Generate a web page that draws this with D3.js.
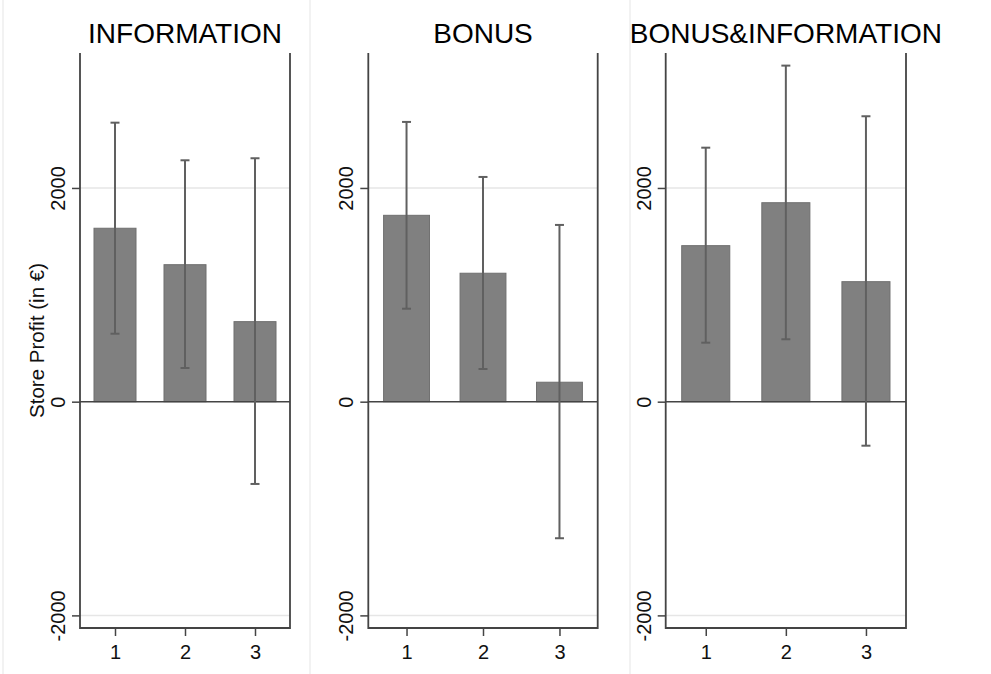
<!DOCTYPE html>
<html><head><meta charset="utf-8">
<script src="https://cdn.jsdelivr.net/npm/d3@7"></script>
<style>body{margin:0;background:#fff}svg{display:block;font-family:"Liberation Sans",Arial,sans-serif}</style>
</head><body>
<script>
const panelTitles = ["INFORMATION", "BONUS", "BONUS&INFORMATION"];
const categories = [1, 2, 3];
const means = [[1623, 1282, 749], [1744, 1202, 182], [1460, 1862, 1123]];
const ciHigh = [[2611, 2259, 2278], [2618, 2103, 1654], [2377, 3145, 2671]];
const ciLow = [[636, 315, -770], [870, 306, -1278], [552, 584, -412]];
const yTicks = [-2000, 0, 2000];
const yLabel = "Store Profit (in €)";

(function () {
const W = 991, H = 674;
const svg = d3.select("body").append("svg").attr("width", W).attr("height", H);

[3, 310, 630].forEach(x => svg.append("line").attr("x1", x).attr("x2", x).attr("y1", 0).attr("y2", H)
  .attr("stroke", "#eeeeee").attr("stroke-width", 1.5));

const panels = [{l: 80, r: 290}, {l: 368.3, r: 597.7}, {l: 665.7, r: 906}];
const plotTop = 53, plotBottom = 628;
const y = d3.scaleLinear().domain([-2118, 3263]).range([plotBottom, plotTop]);
const axisCol = "#444";
const fmt = d => String(d);

panels.forEach((p, i) => {
  const g = svg.append("g");
  const x = d3.scaleLinear().domain([0.5, 3.5]).range([p.l, p.r]);
  const unit = x(2) - x(1);
  yTicks.filter(t => t !== 0).forEach(t => g.append("line").attr("x1", p.l).attr("x2", p.r)
    .attr("y1", y(t)).attr("y2", y(t)).attr("stroke", "#e6e6e6").attr("stroke-width", 1.5));
  g.selectAll("rect.bar").data(categories).join("rect")
    .attr("x", d => x(d) - unit * 0.3).attr("width", unit * 0.6)
    .attr("y", (d, j) => y(Math.max(0, means[i][j])))
    .attr("height", (d, j) => Math.abs(y(means[i][j]) - y(0)))
    .attr("fill", "#808080").attr("stroke", "#6f6f6f").attr("stroke-width", 1);
  g.append("line").attr("x1", p.l).attr("x2", p.r).attr("y1", y(0)).attr("y2", y(0))
    .attr("stroke", axisCol).attr("stroke-width", 1.5);
  categories.forEach((c, j) => {
    const cx = x(c);
    g.append("line").attr("x1", cx).attr("x2", cx).attr("y1", y(ciLow[i][j])).attr("y2", y(ciHigh[i][j]))
      .attr("stroke", "#606060").attr("stroke-width", 2);
    [ciLow[i][j], ciHigh[i][j]].forEach(v => g.append("line").attr("x1", cx - 4.5).attr("x2", cx + 4.5)
      .attr("y1", y(v)).attr("y2", y(v)).attr("stroke", "#606060").attr("stroke-width", 2));
  });
  const ya = g.append("g").attr("transform", `translate(${p.l},0)`)
    .call(d3.axisLeft(y).tickValues(yTicks).tickSize(8).tickFormat(fmt));
  ya.select(".domain").remove();
  ya.selectAll(".tick line").attr("stroke", axisCol).attr("stroke-width", 1.5);
  ya.selectAll(".tick text").attr("font-size", 20).attr("fill", "#111")
    .attr("x", 0).attr("y", 0).attr("dy", 0)
    .attr("text-anchor", "middle")
    .attr("transform", "translate(-15,0) rotate(-90)");
  const xa = g.append("g").attr("transform", `translate(0,${plotBottom})`)
    .call(d3.axisBottom(x).tickValues(categories).tickSize(8).tickFormat(fmt));
  xa.select(".domain").remove();
  xa.selectAll(".tick line").attr("stroke", axisCol).attr("stroke-width", 1.5);
  xa.selectAll(".tick text").attr("font-size", 20).attr("fill", "#111").attr("y", 0).attr("dy", 31);
  g.append("path").attr("d", `M${p.l},${plotTop}V${plotBottom}H${p.r}V${plotTop}`)
    .attr("fill", "none").attr("stroke", axisCol).attr("stroke-width", 1.8);
  g.append("text").attr("x", (p.l + p.r) / 2).attr("y", 43).attr("text-anchor", "middle")
    .attr("font-size", 28).attr("fill", "#000").text(panelTitles[i]);
  if (i === 0) {
    g.append("text").attr("transform", `translate(44,${(plotTop + plotBottom) / 2}) rotate(-90)`)
      .attr("text-anchor", "middle").attr("font-size", 20.5).attr("fill", "#111").text(yLabel);
  }
});
})();
</script>
</body></html>
